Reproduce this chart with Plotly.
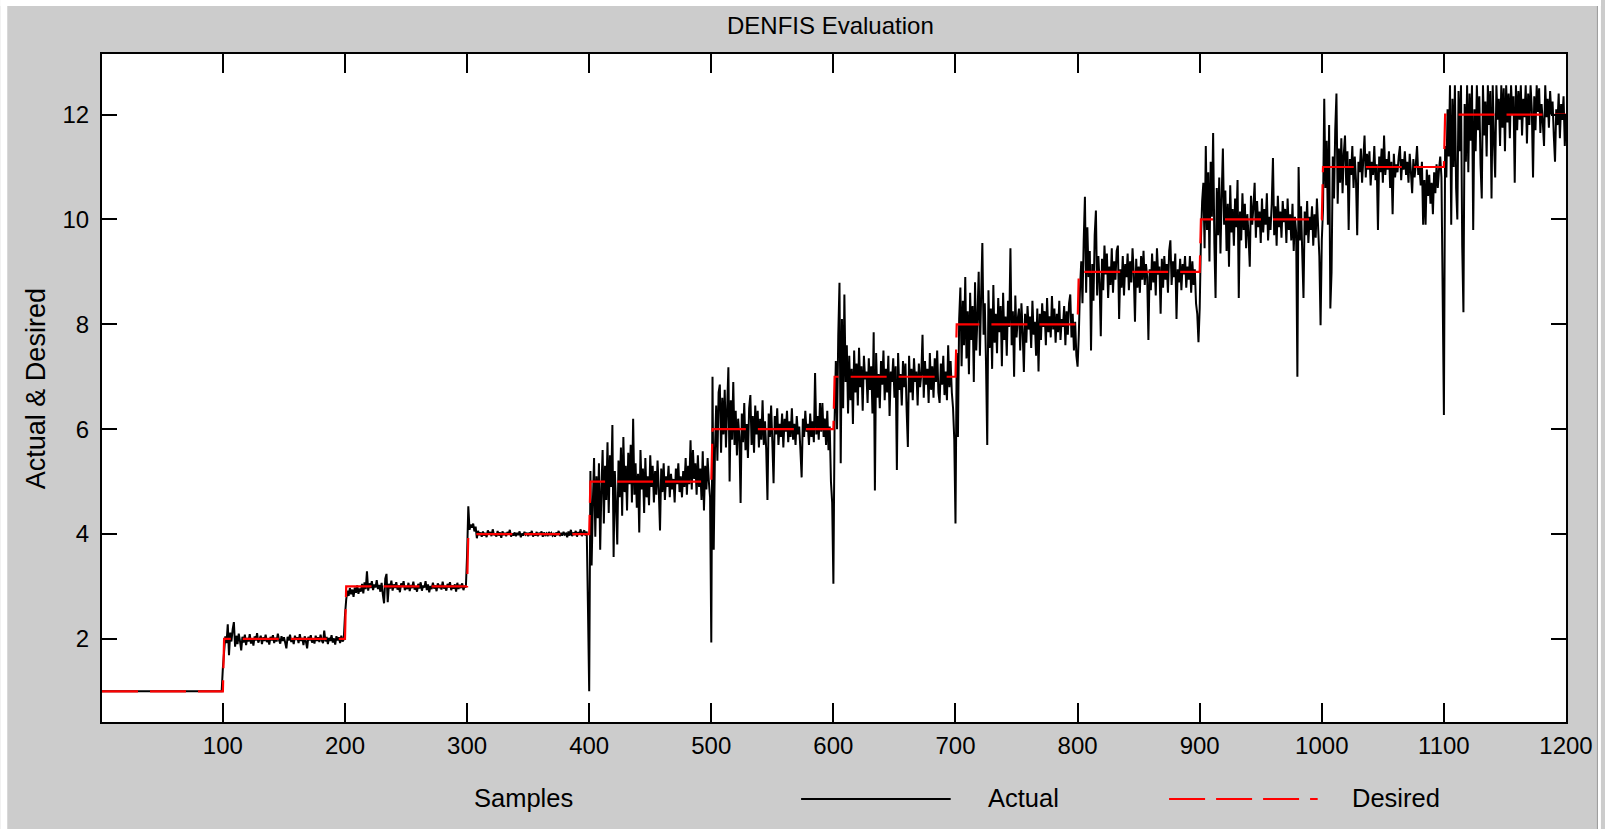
import plotly.graph_objects as go

# ---- data -------------------------------------------------------------
x_ticks = [100, 200, 300, 400, 500, 600, 700, 800, 900, 1000, 1100, 1200]
y_ticks = [2, 4, 6, 8, 10, 12]

desired_levels = [1, 2, 3, 4, 5, 6, 7, 8, 9, 10, 11, 12]
samples_per_level = 100

# DENFIS output, one block per 100 samples
actual_0001_0100 = [
    1.0, 1.0, 1.0, 1.0, 1.0, 1.0, 1.0, 1.0, 1.0, 1.0,
    1.0, 1.0, 1.0, 1.0, 1.0, 1.0, 1.0, 1.0, 1.0, 1.0,
    1.0, 1.0, 1.0, 1.0, 1.0, 1.0, 1.0, 1.0, 1.0, 1.0,
    1.0, 1.0, 1.0, 1.0, 1.0, 1.0, 1.0, 1.0, 1.0, 1.0,
    1.0, 1.0, 1.0, 1.0, 1.0, 1.0, 1.0, 1.0, 1.0, 1.0,
    1.0, 1.0, 1.0, 1.0, 1.0, 1.0, 1.0, 1.0, 1.0, 1.0,
    1.0, 1.0, 1.0, 1.0, 1.0, 1.0, 1.0, 1.0, 1.0, 1.0,
    1.0, 1.0, 1.0, 1.0, 1.0, 1.0, 1.0, 1.0, 1.0, 1.0,
    1.0, 1.0, 1.0, 1.0, 1.0, 1.0, 1.0, 1.0, 1.0, 1.0,
    1.0, 1.0, 1.0, 1.0, 1.0, 1.0, 1.0, 1.0, 1.0, 1.45,
]
actual_0101_0200 = [
    1.75, 2.05, 1.92, 2.28, 1.69, 2.12, 1.95, 2.18, 2.32, 1.85,
    2.06, 1.90, 2.10, 1.96, 1.78, 2.04, 1.93, 2.08, 1.88, 2.02,
    1.95, 2.09, 1.91, 2.01, 1.87, 2.05, 1.97, 2.11, 1.93, 1.99,
    2.06, 1.90, 2.03, 1.96, 2.08, 1.94, 2.00, 1.89, 2.04, 1.97,
    2.07, 1.92, 2.02, 1.95, 2.10, 1.98, 1.91, 2.05, 1.96, 2.03,
    1.93, 1.82, 2.04, 1.97, 2.08, 1.94, 2.01, 1.90, 2.06, 1.98,
    2.03, 1.92, 2.09, 1.96, 2.02, 1.88, 2.05, 1.95, 1.82, 2.04,
    1.97, 2.07, 1.93, 2.00, 1.91, 2.06, 1.96, 2.03, 1.94, 2.08,
    1.97, 1.92, 2.16, 1.95, 2.04, 1.90, 2.02, 1.96, 2.07, 1.93,
    2.01, 1.89, 2.05, 1.97, 2.03, 1.92, 2.06, 1.95, 1.99, 2.45,
]
actual_0201_0300 = [
    2.75, 2.92, 2.82, 2.97, 2.85, 2.94, 2.80, 2.98, 2.88, 3.02,
    2.86, 2.96, 2.90, 3.05, 2.87, 3.08, 2.95, 3.29, 2.92, 3.06,
    2.97, 3.10, 2.93, 3.04, 2.98, 3.12, 2.95, 3.03, 2.90, 3.07,
    2.85, 2.68, 3.15, 3.24, 2.70, 3.05, 2.96, 3.11, 2.92, 3.04,
    2.97, 3.08, 2.94, 3.02, 2.89, 3.06, 2.99, 3.10, 2.93, 3.01,
    2.95, 3.07, 2.91, 3.03, 2.97, 3.09, 2.94, 3.00, 2.90, 3.05,
    2.96, 3.08, 2.92, 3.02, 2.98, 3.10, 2.93, 3.04, 2.89, 3.01,
    2.95, 3.07, 2.96, 3.02, 2.91, 3.06, 2.97, 3.03, 2.94, 3.09,
    2.96, 3.01, 2.92, 3.05, 2.98, 3.08, 2.93, 3.02, 2.96, 3.04,
    2.90, 3.07, 2.95, 3.03, 2.97, 3.06, 2.93, 3.01, 2.98, 3.60,
]
actual_0301_0400 = [
    4.53, 4.08, 4.18, 4.12, 4.20, 4.05, 4.14, 3.92, 4.06, 3.98,
    4.03, 3.95, 4.05, 3.97, 4.02, 3.94, 4.07, 3.99, 4.04, 3.96,
    4.09, 3.98, 4.01, 3.95, 4.06, 3.97, 4.03, 3.93, 4.05, 3.98,
    4.02, 3.96, 4.04, 3.99, 4.08, 3.95, 4.01, 3.97, 4.03, 3.96,
    4.02, 3.98, 4.05, 3.94, 4.01, 3.97, 4.04, 3.99, 4.02, 3.96,
    4.03, 3.98, 4.06, 3.95, 4.01, 3.97, 4.04, 3.96, 4.02, 3.99,
    4.05, 3.95, 4.03, 3.98, 4.01, 3.96, 4.04, 3.99, 4.02, 3.97,
    4.00, 3.95, 4.03, 3.98, 4.06, 3.96, 4.02, 3.97, 4.04, 3.99,
    4.01, 3.94, 4.05, 3.97, 4.08, 3.96, 4.03, 3.98, 4.06, 3.95,
    4.04, 3.99, 4.09, 3.96, 4.03, 4.07, 3.97, 4.05, 2.60, 1.00,
]
actual_0401_0500 = [
    5.20, 3.40, 4.60, 5.45, 3.95, 5.10, 4.30, 5.35, 3.70, 4.85,
    5.60, 4.20, 5.30, 4.65, 5.75, 4.40, 5.50, 4.90, 6.08, 3.56,
    5.20, 4.55, 3.80, 5.40, 4.70, 5.65, 4.35, 5.85, 4.80, 5.30,
    4.45, 5.55, 4.95, 5.70, 4.60, 6.20, 4.75, 5.35, 4.50, 5.15,
    4.03, 5.60, 4.85, 5.25, 4.40, 5.45, 4.70, 5.10, 4.55, 5.50,
    4.90, 5.30, 4.60, 5.20, 4.75, 5.40, 4.85, 4.07, 5.25, 4.80,
    5.35, 4.65, 5.10, 4.90, 5.30, 4.70, 5.15, 4.85, 5.05, 4.60,
    5.25, 4.95, 5.35, 4.80, 5.10, 4.70, 5.20, 4.90, 5.45, 4.75,
    5.30, 4.95, 5.79, 4.85, 5.60, 5.05, 5.35, 4.75, 5.50, 4.90,
    5.25, 4.65, 5.58, 4.45, 5.30, 4.85, 5.45, 5.00, 4.70, 1.93,
]
actual_0501_0600 = [
    7.00, 3.70, 5.60, 6.45, 5.40, 6.70, 6.85, 5.55, 6.60, 5.90,
    6.75, 5.65, 6.40, 7.18, 5.00, 6.55, 5.80, 6.90, 5.70, 6.35,
    5.50, 6.20, 5.85, 4.59, 6.30, 5.75, 6.50, 5.60, 6.10, 5.45,
    6.40, 6.65, 5.70, 6.25, 5.55, 6.45, 5.90, 6.35, 5.65, 6.20,
    5.80, 6.55, 5.70, 6.15, 5.60, 4.65, 6.30, 5.85, 6.45, 5.75,
    4.97, 6.25, 5.90, 6.40, 5.70, 6.10, 5.85, 6.30, 5.65, 6.20,
    5.95, 6.35, 5.75, 6.15, 5.85, 6.40, 5.80, 6.10, 5.70, 6.25,
    5.90, 6.05, 5.60, 5.08, 6.20, 5.85, 6.35, 5.95, 6.10, 5.70,
    6.30, 5.85, 6.15, 5.75, 7.07, 5.90, 6.25, 5.80, 6.50, 5.95,
    6.50, 5.85, 6.20, 5.70, 6.35, 5.60, 6.05, 5.00, 4.60, 3.05,
]
actual_0601_0700 = [
    6.20, 7.30, 6.00, 7.80, 8.79, 5.35, 8.10, 6.40, 8.57, 6.90,
    7.60, 6.30, 7.40, 6.55, 7.15, 6.10, 7.50, 6.70, 7.25, 6.45,
    7.55, 6.80, 7.20, 6.35, 7.40, 6.95, 7.10, 6.50, 7.35, 6.75,
    7.20, 6.30, 7.85, 4.83, 7.45, 6.60, 7.05, 6.40, 7.30, 6.85,
    7.50, 6.55, 7.15, 6.70, 7.40, 6.25, 7.10, 6.90, 7.35, 6.60,
    7.20, 5.22, 7.45, 6.75, 7.05, 6.45, 7.30, 6.80, 7.25, 6.35,
    5.66, 7.40, 6.70, 7.15, 6.55, 7.35, 6.90, 7.10, 6.45, 7.25,
    6.80, 7.05, 7.80, 6.60, 7.30, 6.85, 7.15, 6.50, 7.45, 6.75,
    7.20, 6.60, 7.35, 6.90, 7.50, 6.70, 6.50, 7.25, 6.85, 7.40,
    6.65, 7.10, 6.55, 7.60, 6.80, 7.30, 6.70, 6.40, 5.80, 4.20,
]
actual_0701_0800 = [
    7.45, 5.85, 8.10, 8.70, 7.20, 8.45, 7.60, 8.90, 7.35, 8.25,
    7.05, 8.60, 7.70, 8.35, 6.90, 8.80, 7.50, 8.15, 9.00, 7.40,
    8.55, 9.55, 7.80, 8.40, 7.25, 5.70, 8.65, 7.55, 8.30, 7.15,
    8.75, 7.65, 8.20, 7.45, 8.50, 7.85, 8.35, 7.20, 8.60, 7.70,
    8.15, 7.40, 8.45, 7.95, 9.45, 7.60, 8.25, 7.00, 8.55, 7.75,
    8.10, 8.30, 7.50, 8.40, 7.85, 7.09, 8.20, 7.65, 8.35, 7.90,
    8.15, 7.55, 8.45, 7.80, 8.05, 7.40, 8.30, 7.10, 8.20, 7.70,
    8.40, 7.95, 8.25, 7.60, 8.50, 7.85, 8.15, 7.75, 8.54, 7.90,
    8.30, 7.65, 8.20, 7.85, 8.45, 7.70, 8.10, 7.95, 8.35, 7.60,
    8.25, 7.80, 8.40, 8.57, 7.75, 8.20, 7.50, 8.05, 7.40, 7.19,
]
actual_0801_0900 = [
    7.80, 8.70, 9.20, 8.40, 9.60, 10.43, 8.60, 9.85, 8.90, 9.40,
    7.50, 9.15, 8.45, 9.70, 10.17, 8.55, 9.30, 8.80, 7.77, 9.25,
    8.65, 9.50, 8.95, 9.35, 8.50, 9.10, 8.75, 9.45, 8.60, 9.20,
    8.85, 9.40, 9.50, 8.10, 9.05, 8.70, 9.30, 8.55, 9.15, 8.90,
    9.35, 8.65, 9.20, 8.80, 9.45, 8.95, 8.05, 9.25, 8.70, 9.10,
    8.60, 9.30, 8.85, 9.40, 8.75, 9.15, 8.90, 7.70, 9.05, 8.65,
    9.35, 8.80, 9.20, 8.55, 9.45, 8.95, 9.10, 8.20, 9.25, 8.70,
    9.30, 8.85, 9.15, 8.60, 9.40, 9.60, 8.75, 9.20, 8.90, 9.35,
    8.10, 9.05, 8.80, 9.25, 8.65, 9.15, 8.95, 9.30, 8.70, 9.10,
    8.85, 9.30, 8.60, 9.20, 8.75, 9.05, 8.40, 8.20, 7.66, 8.30,
]
actual_0901_1000 = [
    9.60, 10.35, 10.70, 9.45, 11.40, 9.80, 10.90, 9.20, 11.10, 10.05,
    11.65, 9.55, 8.50, 10.60, 9.70, 10.80, 9.35, 10.45, 11.35, 9.90,
    10.55, 9.40, 10.30, 9.10, 10.65, 9.75, 10.20, 9.50, 10.40, 9.85,
    10.75, 8.50, 10.15, 9.60, 10.50, 9.80, 10.30, 9.45, 10.10, 9.70,
    9.10, 10.45, 9.90, 10.25, 10.70, 9.65, 10.35, 9.85, 10.15, 9.55,
    10.40, 9.75, 10.20, 9.90, 10.50, 9.60, 10.05, 9.80, 10.30, 11.17,
    9.70, 10.25, 9.50, 10.45, 9.85, 10.15, 9.65, 10.35, 9.95, 10.20,
    9.55, 10.40, 9.80, 10.10, 9.60, 10.30, 9.40, 10.05, 9.75, 7.00,
    11.00, 9.60, 10.25, 9.35, 8.50, 10.15, 9.70, 10.35, 9.55, 10.05,
    9.80, 10.25, 9.50, 10.10, 9.65, 10.40, 9.85, 9.30, 7.98, 9.60,
]
actual_1001_1100 = [
    10.20, 12.30, 10.60, 11.50, 9.90, 11.80, 8.30, 9.00, 11.20, 10.40,
    11.70, 12.40, 10.30, 11.35, 10.70, 11.55, 10.50, 11.25, 11.60, 10.65,
    11.30, 9.80, 11.15, 10.85, 11.40, 10.60, 11.20, 10.75, 9.70, 11.10,
    10.90, 11.35, 10.70, 11.15, 11.60, 10.80, 11.25, 10.95, 11.30, 10.65,
    11.10, 10.85, 11.40, 10.75, 11.05, 9.80, 11.20, 10.90, 11.35, 10.70,
    11.60, 10.85, 11.15, 10.95, 11.30, 10.60, 11.10, 10.10, 11.25, 10.80,
    11.05, 10.90, 11.20, 11.40, 10.75, 11.15, 10.95, 11.30, 10.85, 11.10,
    10.70, 11.25, 10.90, 10.50, 11.15, 10.80, 11.05, 11.40, 10.85, 11.00,
    10.65, 11.10, 9.90, 10.75, 9.90, 10.95, 10.45, 10.85, 10.30, 10.70,
    10.10, 10.90, 10.50, 11.05, 10.60, 10.95, 11.20, 10.80, 8.56, 6.27,
]
actual_1101_1200 = [
    11.40, 10.80, 12.10, 11.20, 12.56, 9.90, 12.30, 11.00, 12.56, 10.60,
    10.00, 12.45, 11.30, 12.56, 9.50, 8.23, 12.20, 11.10, 12.56, 10.90,
    12.40, 11.50, 12.56, 9.80, 12.10, 11.30, 12.56, 11.70, 12.35, 11.05,
    10.40, 12.56, 11.60, 12.25, 11.20, 12.56, 11.80, 12.45, 10.40, 12.56,
    11.50, 10.80, 12.56, 11.90, 12.30, 11.40, 12.56, 11.75, 12.50, 11.30,
    12.56, 11.85, 12.40, 11.55, 12.56, 12.00, 12.35, 10.70, 12.56, 11.70,
    12.45, 11.90, 12.56, 11.60, 12.30, 11.95, 12.56, 11.45, 12.40, 11.80,
    12.56, 12.10, 10.80, 12.35, 11.70, 12.56, 12.05, 12.50, 11.65, 12.20,
    11.85, 11.40, 12.56, 11.95, 12.30, 11.75, 12.45, 12.00, 12.25, 11.60,
    11.10, 12.10, 11.80, 12.40, 11.55, 12.20, 11.90, 12.35, 11.40, 12.00,
]

actual = (actual_0001_0100 + actual_0101_0200 + actual_0201_0300 +
          actual_0301_0400 + actual_0401_0500 + actual_0501_0600 +
          actual_0601_0700 + actual_0701_0800 + actual_0801_0900 +
          actual_0901_1000 + actual_1001_1100 + actual_1101_1200)
desired = [lvl for lvl in desired_levels for _ in range(samples_per_level)]
samples = list(range(1, len(actual) + 1))

# ---- figure geometry (pixels) ------------------------------------------
W, H = 1605, 829
ML, MR, MT, MB = 102, 35, 54, 107
PW, PH = W - ML - MR, H - MT - MB
FONT = "Liberation Sans, Arial, sans-serif"
GREY = "#CCCCCC"


def px(x):
    return (x - ML) / PW


def py(y):
    return (H - MB - y) / PH


fig = go.Figure()
fig.add_trace(go.Scatter(
    x=samples, y=actual, mode="lines", name="Actual",
    line=dict(color="black", width=2.0, simplify=False),
    hoverinfo="skip",
))
fig.add_trace(go.Scatter(
    x=samples, y=desired, mode="lines", name="Desired",
    line=dict(color="#FF0000", width=2.2, dash="36px,12px", simplify=False),
    hoverinfo="skip",
))

axis_common = dict(
    showgrid=False, zeroline=False, showline=True, linecolor="black",
    linewidth=2, mirror="ticks", ticks="inside", tickcolor="black",
    tickwidth=2, tickfont=dict(family=FONT, size=24, color="black"),
)
fig.update_xaxes(range=[1, 1200], tickvals=x_ticks, ticklen=19,
                 ticklabelstandoff=1, **axis_common)
fig.update_yaxes(range=[0.415, 13.155], tickvals=y_ticks, ticklen=15,
                 ticklabelstandoff=6, **axis_common)

shapes = [
    # white window edges
    dict(type="rect", xref="paper", yref="paper", x0=px(0), x1=px(W),
         y0=py(6), y1=py(0), fillcolor="white", line_width=0, layer="below"),
    dict(type="rect", xref="paper", yref="paper", x0=px(0), x1=px(7),
         y0=py(H), y1=py(0), fillcolor="white", line_width=0, layer="below"),
    dict(type="rect", xref="paper", yref="paper", x0=px(1602), x1=px(W),
         y0=py(H), y1=py(0), fillcolor="white", line_width=0, layer="below"),
    dict(type="line", xref="paper", yref="paper", x0=px(1601.5), x1=px(1601.5),
         y0=py(H), y1=py(6), line=dict(color="#9A9A9A", width=1)),
    # legend samples
    dict(type="line", xref="paper", yref="paper", x0=px(803), x1=px(953),
         y0=py(799), y1=py(799), line=dict(color="black", width=2)),
    dict(type="line", xref="paper", yref="paper", x0=px(1172), x1=px(1321),
         y0=py(799), y1=py(799),
         line=dict(color="#FF0000", width=2.2, dash="36px,11px")),
]

annotations = [
    dict(text="DENFIS Evaluation", x=px(832), y=py(25), xref="paper",
         yref="paper", showarrow=False, xanchor="center", yanchor="middle",
         font=dict(family=FONT, size=24, color="black")),
    dict(text="Actual & Desired", x=px(36), y=py(389), xref="paper",
         yref="paper", showarrow=False, xanchor="center", yanchor="middle",
         textangle=-90, font=dict(family=FONT, size=27, color="black")),
    dict(text="Samples", x=px(525), y=py(798), xref="paper", yref="paper",
         showarrow=False, xanchor="center", yanchor="middle",
         font=dict(family=FONT, size=25.5, color="black")),
    dict(text="Actual", x=px(1026), y=py(798), xref="paper", yref="paper",
         showarrow=False, xanchor="center", yanchor="middle",
         font=dict(family=FONT, size=25.5, color="black")),
    dict(text="Desired", x=px(1400), y=py(798), xref="paper", yref="paper",
         showarrow=False, xanchor="center", yanchor="middle",
         font=dict(family=FONT, size=25.5, color="black")),
]

fig.update_layout(
    width=W, height=H, autosize=False,
    margin=dict(l=ML, r=MR, t=MT, b=MB, pad=0),
    paper_bgcolor=GREY, plot_bgcolor="white",
    showlegend=False, shapes=shapes, annotations=annotations,
    font=dict(family=FONT, color="black"),
)

fig.write_html("out.html", include_plotlyjs=True, full_html=True,
               config=dict(displayModeBar=False, staticPlot=True))
